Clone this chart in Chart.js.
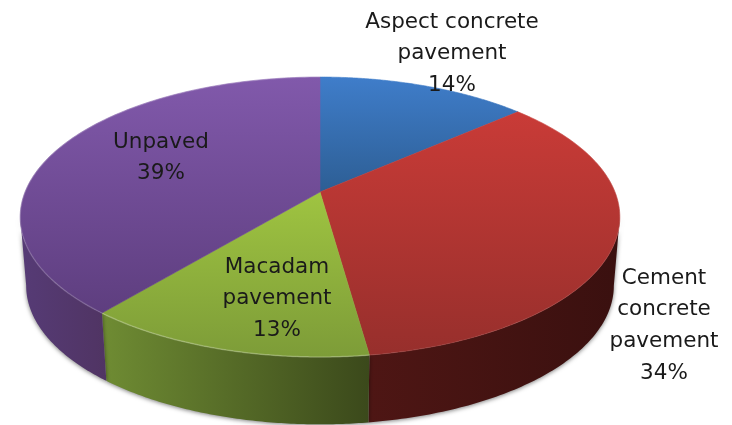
<!DOCTYPE html>
<html><head><meta charset="utf-8">
<style>html,body{margin:0;padding:0;background:#fff}#w{width:732px;height:425px;position:relative}canvas{filter:blur(0.45px)}</style>
<script src="https://cdn.jsdelivr.net/npm/chart.js@4"></script>
</head><body><div id="w"><canvas id="c" width="732" height="425"></canvas></div>
<script>
const categories = [['Aspect concrete','pavement'],['Cement','concrete','pavement'],['Macadam','pavement'],['Unpaved']];
const values = [13.5,34.3,13.2,39];
const topColors = [['#3f7dca','#2d5e94'],['#c93b37','#972f2c'],['#9fc441','#7d9c38'],['#8159ab','#5e3e7f']];
const sideColors = [['#2d5e94','#2d5e94'],['#4e1614','#3a100f'],['#6f8c33','#3b491b'],['#563b76','#503463']];
const rimAlpha = [0,0.04,0.22,0.14];
const labelCentres = [[452,22],[664,278],[277,267],[161,142]];
const LINE = 31.8;

// perspective model of the tilted disc
const K = 0.1786, AX = 295/192, BY = 135.5/192, LOWER_X = 0.98, LOWER_Y = 0.99, DEPTH = 69;
function proj(el, ang, lower){
  const u = Math.cos(ang), v = Math.sin(ang), s = 1/(1-K*v), R = el.outerRadius;
  return lower
    ? [el.x + AX*R*u*s*LOWER_X, el.y + DEPTH + BY*R*v*s*LOWER_Y]
    : [el.x + AX*R*u*s, el.y + BY*R*v*s];
}
function grad(ctx,x0,y0,x1,y1,c){const g=ctx.createLinearGradient(x0,y0,x1,y1);g.addColorStop(0,c[0]);g.addColorStop(1,c[1]);return g;}
const pie3d = {
  id:'pie3d',
  beforeDatasetDraw(){return false;},
  afterDatasetsDraw(chart){
    const ctx = chart.ctx, arcs = chart.getDatasetMeta(0).data;
    const MIN=Math.asin(K), MAX=Math.PI-Math.asin(K);
    // walls, between the two silhouette tangents
    ctx.save();
    arcs.forEach((el,i)=>{
      const a0=Math.max(el.startAngle,MIN), a1=Math.min(el.endAngle,MAX);
      if(a1<=a0) return;
      const top=[],bot=[];
      for(let k=0;k<=90;k++){const a=a0+(a1-a0)*k/90;top.push(proj(el,a,false));bot.push(proj(el,a,true));}
      const xs=top.concat(bot).map(p=>p[0]);
      ctx.beginPath();
      top.forEach((p,k)=>k?ctx.lineTo(p[0],p[1]):ctx.moveTo(p[0],p[1]));
      bot.reverse().forEach(p=>ctx.lineTo(p[0],p[1]));
      ctx.closePath();
      ctx.shadowColor='rgba(0,0,0,0.5)';ctx.shadowBlur=4;ctx.shadowOffsetX=0;ctx.shadowOffsetY=1;
      ctx.fillStyle=grad(ctx,Math.min(...xs),0,Math.max(...xs),0,sideColors[i]);
      ctx.fill();
    });
    ctx.restore();
    // top faces
    arcs.forEach((el,i)=>{
      const pts=[proj({x:el.x,y:el.y,outerRadius:0},0,false)];
      for(let k=0;k<=120;k++){pts.push(proj(el,el.startAngle+(el.endAngle-el.startAngle)*k/120,false));}
      const ys=pts.map(p=>p[1]);
      ctx.beginPath();
      pts.forEach((p,k)=>k?ctx.lineTo(p[0],p[1]):ctx.moveTo(p[0],p[1]));
      ctx.closePath();
      const g=grad(ctx,0,Math.min(...ys),0,Math.max(...ys),topColors[i]);
      ctx.fillStyle=g;ctx.fill();
      ctx.strokeStyle=g;ctx.lineWidth=0.6;ctx.stroke();
      // soft highlight on the front rim
      if(rimAlpha[i]>0){
        ctx.beginPath();
        pts.slice(1).forEach((p,k)=>k?ctx.lineTo(p[0],p[1]):ctx.moveTo(p[0],p[1]));
        ctx.strokeStyle='rgba(255,255,255,'+rimAlpha[i]+')';ctx.lineWidth=1.5;ctx.stroke();
      }
    });
    // labels
    ctx.font='21.5px "DejaVu Sans"';ctx.fillStyle='#1a1a1a';ctx.textAlign='center';ctx.textBaseline='middle';
    categories.forEach((lines,i)=>{
      const all=lines.concat(Math.round(values[i])+'%');
      all.forEach((t,j)=>ctx.fillText(t,labelCentres[i][0],labelCentres[i][1]+j*LINE));
    });
  }
};
new Chart(document.getElementById('c'),{
  type:'pie',
  data:{labels:categories.map(l=>l.join(' ')),datasets:[{data:values,backgroundColor:topColors.map(c=>c[0]),borderWidth:0}]},
  options:{responsive:false,animation:false,rotation:0,
    layout:{padding:{left:0,top:0,right:92,bottom:41}},
    plugins:{legend:{display:false},tooltip:{enabled:false}}},
  plugins:[pie3d]
});
</script></body></html>
